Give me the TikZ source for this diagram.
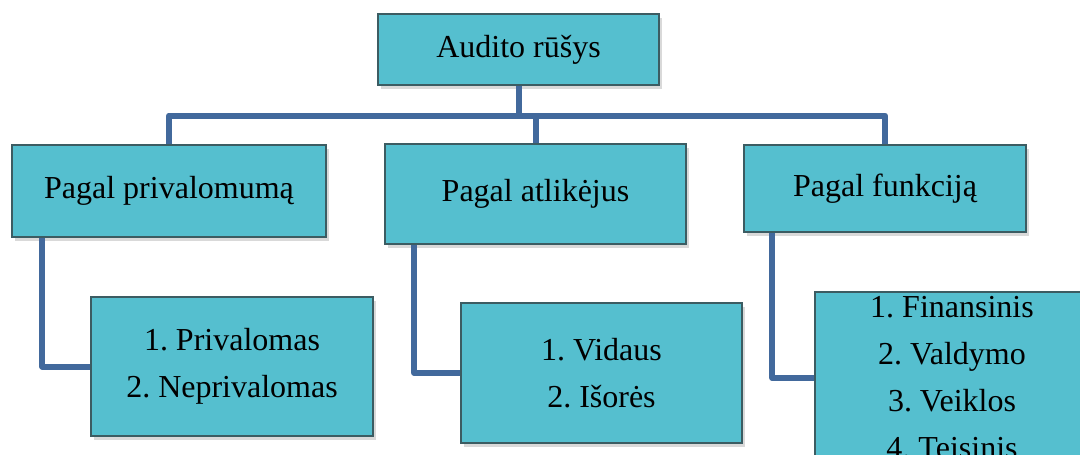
\documentclass[tikz,border=0pt]{standalone}
\usepackage{fontspec}
\setmainfont{Liberation Serif}
\usetikzlibrary{shadows}

\definecolor{boxfill}{HTML}{55BFCF}
\definecolor{boxline}{HTML}{3C5C62}
\definecolor{linkblue}{HTML}{42699C}

\tikzset{
    kind/.style={draw=boxline, line width=0.8pt, fill=boxfill, inner sep=0pt,
        align=center, font=\fontsize{24}{35.25}\selectfont\frenchspacing,
        drop shadow={shadow xshift=2pt, shadow yshift=-3pt, opacity=0.3}},
    link/.style={draw=linkblue, line width=4.5pt, line join=round}
}

\begin{document}
\begin{tikzpicture}[x=0.75pt, y=-0.75pt]
    \clip (0,0) rectangle (1080,454);

    \node[kind, minimum width=210.75pt, minimum height=53.25pt] (root) at (518.5,49.5) {Audito rūšys};

    \node[kind, minimum width=235.5pt, minimum height=69pt] (priv) at (169,191) {Pagal privalomumą};
    \node[kind, minimum width=225.75pt, minimum height=75pt] (atl) at (535.5,194) {Pagal atlikėjus};
    \node[kind, minimum width=211.5pt, minimum height=65.25pt] (funk) at (885,188.5) {Pagal funkciją};

    \node[kind, minimum width=211.5pt, minimum height=104.25pt] (privc) at (232,366.5) {1. Privalomas\\2. Neprivalomas};
    \node[kind, minimum width=210.75pt, minimum height=105pt] (atlc) at (601.5,373) {1. Vidaus\\2. Išorės};
    \node[kind, minimum width=205.5pt, minimum height=129pt] (funkc) at (952,378) {1. Finansinis\\2. Valdymo\\3. Veiklos\\4. Teisinis};

    % top level links
    \draw[link] (root.south) -- ++(0,30) coordinate (bus) -| (priv.north);
    \draw[link] (bus) -| (funk.north);
    \draw[link] (atl.north) -- (atl.north |- bus);

    % children
    \draw[link] ([xshift=23.25pt]priv.south west) |- (privc.west);
    \draw[link] ([xshift=22.5pt]atl.south west) |- (atlc.west);
    \draw[link] ([xshift=21.75pt]funk.south west) |- (funkc.west);
\end{tikzpicture}
\end{document}
